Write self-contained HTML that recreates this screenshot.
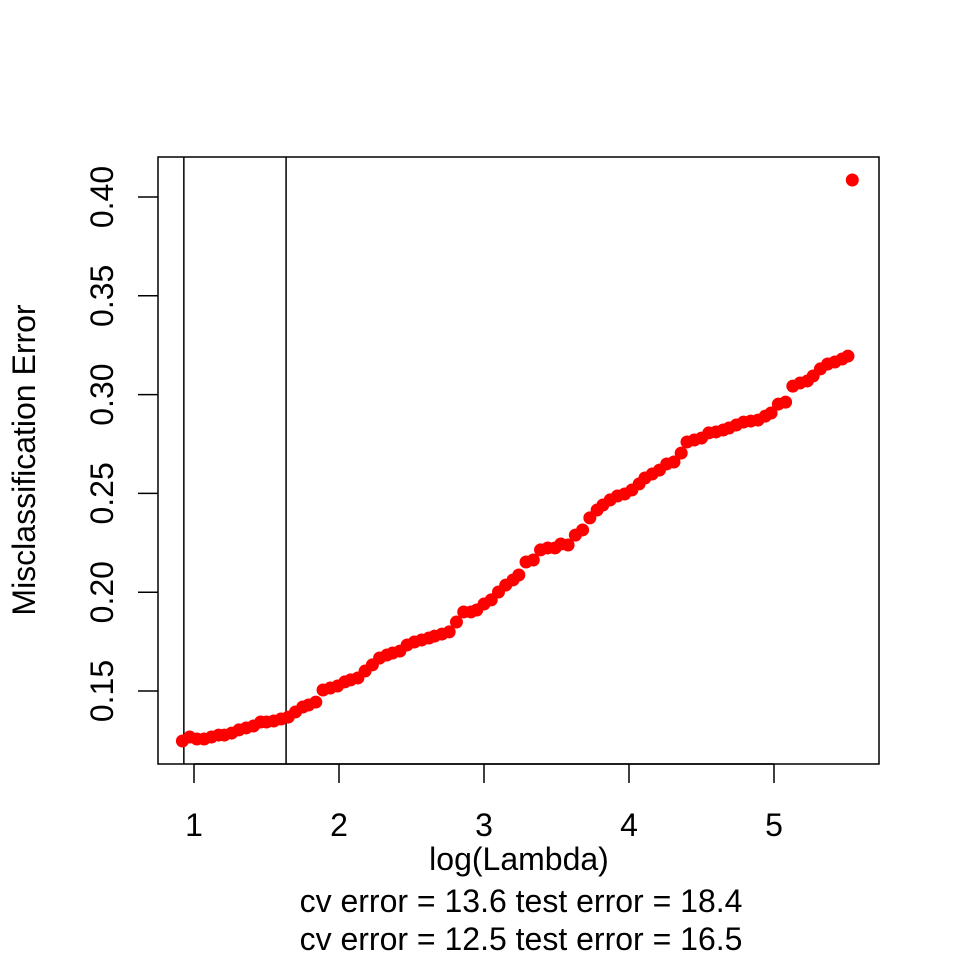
<!DOCTYPE html>
<html><head><meta charset="utf-8"><style>
html,body{margin:0;padding:0;background:#fff;}
svg text{font-family:"Liberation Sans",Arial,sans-serif;fill:#000;}
</style></head><body>
<svg id="chart" width="960" height="960" viewBox="0 0 960 960" xmlns="http://www.w3.org/2000/svg">
<rect x="0" y="0" width="960" height="960" fill="#fff"/>
<g id="marks"></g>
<g id="axes"></g>
<rect x="158" y="157" width="721" height="607" fill="none" stroke="#000" stroke-width="1.5"/>
<text x="519" y="870" font-size="32" text-anchor="middle">log(Lambda)</text>
<text x="521" y="912" font-size="32" text-anchor="middle">cv error = 13.6 test error = 18.4</text>
<text x="521" y="950" font-size="32" text-anchor="middle">cv error = 12.5 test error = 16.5</text>
<text transform="translate(35,460) rotate(-90)" font-size="32" text-anchor="middle">Misclassification Error</text>
</svg>
<script>
const logLambda = [0.92,0.97,1.02,1.07,1.12,1.17,1.21,1.26,1.31,1.36,
1.41,1.46,1.50,1.55,1.60,1.65,1.70,1.75,1.79,1.84,
1.89,1.94,1.99,2.04,2.08,2.13,2.18,2.23,2.28,2.33,
2.37,2.42,2.47,2.52,2.57,2.62,2.66,2.71,2.76,2.81,
2.86,2.91,2.95,3.00,3.05,3.10,3.15,3.20,3.24,3.29,
3.34,3.39,3.44,3.49,3.53,3.58,3.63,3.68,3.73,3.78,
3.82,3.87,3.92,3.97,4.02,4.07,4.11,4.16,4.21,4.26,
4.31,4.36,4.40,4.45,4.50,4.55,4.60,4.65,4.69,4.74,
4.79,4.84,4.89,4.94,4.98,5.03,5.08,5.13,5.18,5.23,
5.27,5.32,5.37,5.42,5.47,5.51,5.54];
const errors = [0.1247,0.1267,0.1257,0.1257,0.1267,0.1277,0.1277,0.1287,0.1303,0.1313,
0.1323,0.1343,0.1343,0.1348,0.1358,0.1368,0.1394,0.1419,0.1429,0.1444,
0.1505,0.1515,0.1525,0.1546,0.1556,0.1566,0.1601,0.1632,0.1667,0.1682,
0.1692,0.1702,0.1733,0.1748,0.1758,0.1768,0.1778,0.1788,0.1799,0.1849,
0.1900,0.1900,0.1910,0.1940,0.1961,0.2001,0.2036,0.2062,0.2087,0.2153,
0.2163,0.2214,0.2224,0.2224,0.2244,0.2239,0.2289,0.2315,0.2376,0.2416,
0.2441,0.2467,0.2487,0.2497,0.2517,0.2548,0.2578,0.2598,0.2618,0.2649,
0.2659,0.2704,0.2760,0.2770,0.2780,0.2806,0.2811,0.2821,0.2831,0.2846,
0.2861,0.2866,0.2871,0.2891,0.2907,0.2952,0.2962,0.3043,0.3059,0.3069,
0.3094,0.3130,0.3155,0.3165,0.3180,0.3195,0.4086];
const xTicks = [1,2,3,4,5];
const xTickLabels = ["1","2","3","4","5"];
const yTicks = [0.15,0.20,0.25,0.30,0.35,0.40];
const yTickLabels = ["0.15","0.20","0.25","0.30","0.35","0.40"];
const vLines = [0.93,1.635];

const NS = "http://www.w3.org/2000/svg";
function xs(v){ return 194 + (v - 1) * 145; }
function ys(v){ return 691 - (v - 0.15) * 1976; }
function mk(tag, attrs, parent){ const e = document.createElementNS(NS, tag); for (const k in attrs) e.setAttribute(k, attrs[k]); parent.appendChild(e); return e; }

const marks = document.getElementById('marks');
const axes = document.getElementById('axes');

vLines.forEach(v => {
  const l = mk('line', {x1: xs(v), x2: xs(v), y1: 157, y2: 764, stroke: '#000', 'stroke-width': 1.5}, marks);
  
  
});
logLambda.forEach((v, i) => {
  const c = mk('circle', {cx: xs(v), cy: ys(errors[i]), r: 6.5, fill: '#ff0000'}, marks);
  
  
});

mk('line', {x1: xs(xTicks[0]), x2: xs(xTicks[xTicks.length-1]), y1: 764, y2: 764, stroke: '#000', 'stroke-width': 1.5}, axes);
xTicks.forEach((t, i) => {
  const tk = mk('line', {x1: xs(t), x2: xs(t), y1: 764, y2: 783, stroke: '#000', 'stroke-width': 1.5}, axes);
  
  
  const tx = mk('text', {x: xs(t), y: 836, 'font-size': 32, 'text-anchor': 'middle'}, axes);
  tx.textContent = xTickLabels[i];
  
  
});
yTicks.forEach((t, i) => {
  const tk = mk('line', {x1: 138, x2: 158, y1: ys(t), y2: ys(t), stroke: '#000', 'stroke-width': 1.5}, axes);
  
  
  const tx = mk('text', {transform: 'translate(113,' + ys(t) + ') rotate(-90)', 'font-size': 32, 'text-anchor': 'middle'}, axes);
  tx.textContent = yTickLabels[i];
  
  
});
</script>
</body></html>
